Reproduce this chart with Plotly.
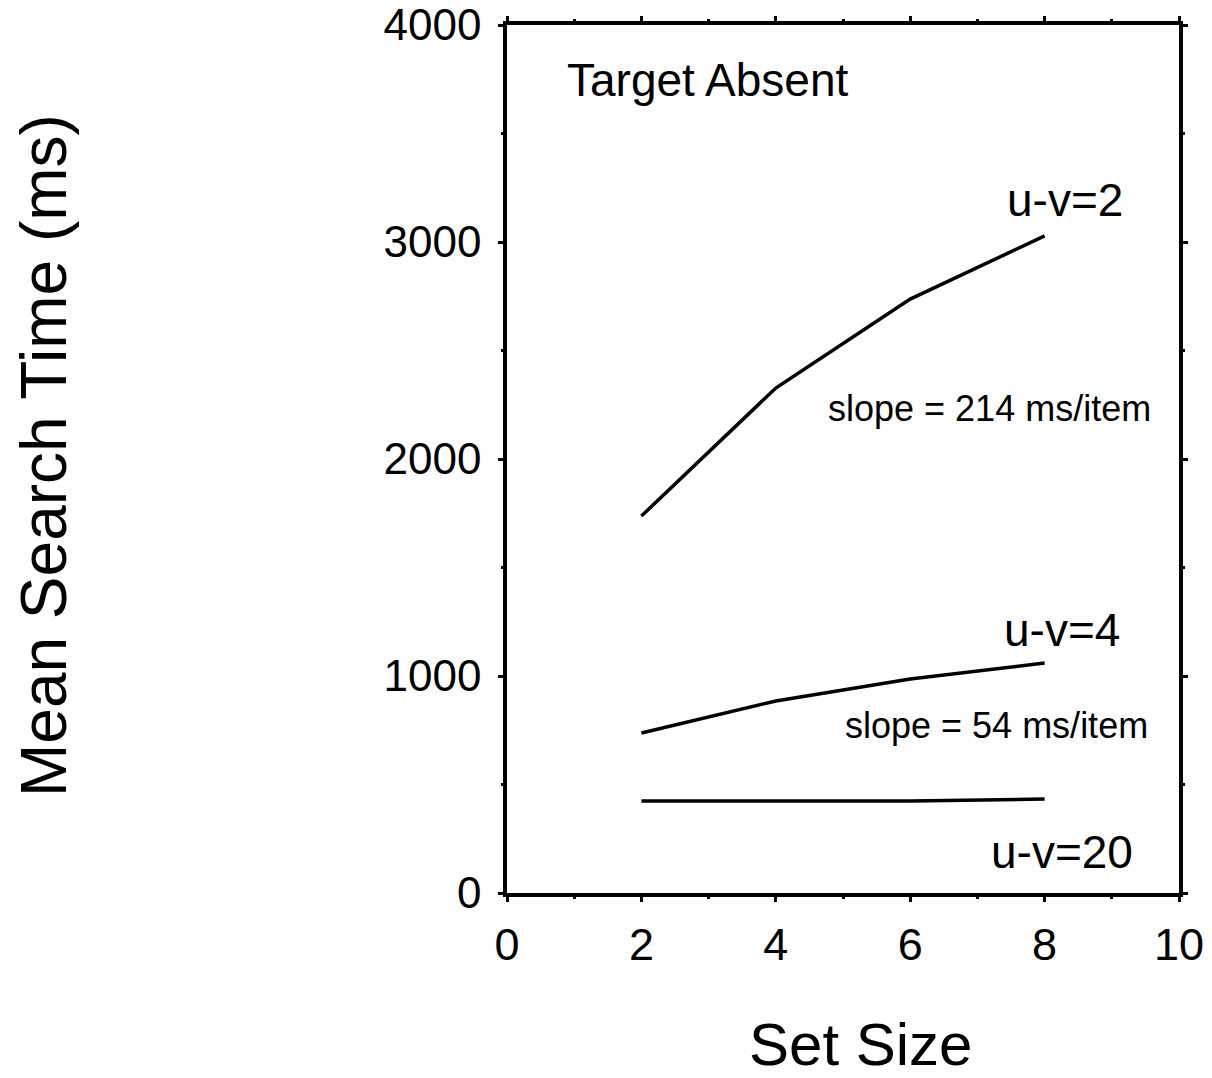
import plotly.graph_objects as go

set_size = [2, 4, 6, 8]
rt_uv2 = [1737, 2327, 2737, 3028]
rt_uv4 = [737, 885, 986, 1060]
rt_uv20 = [424, 424, 424, 433]

x_ticks = [0, 2, 4, 6, 8, 10]
y_ticks = [0, 1000, 2000, 3000, 4000]

FONT = "Liberation Sans, Arial, sans-serif"

fig = go.Figure()
for ys in (rt_uv2, rt_uv4, rt_uv20):
    fig.add_trace(go.Scatter(x=set_size, y=ys, mode="lines",
                             line=dict(color="black", width=3.5),
                             showlegend=False, hoverinfo="skip"))

axis_common = dict(
    showline=True, linecolor="black", linewidth=3.5, mirror="allticks",
    ticks="outside", ticklen=5, tickwidth=3, tickcolor="black",
    showgrid=False, zeroline=False,
)

fig.update_xaxes(range=[0, 10], tickvals=x_ticks, ticklabelstandoff=4,
                 tickfont=dict(family=FONT, size=45, color="black"),
                 minor=dict(dtick=1, ticks="outside", ticklen=2, tickwidth=3, tickcolor="black"),
                 **axis_common)
fig.update_yaxes(range=[0, 4000], tickvals=y_ticks, ticklabelstandoff=8,
                 tickfont=dict(family=FONT, size=44, color="black"),
                 minor=dict(dtick=500, ticks="outside", ticklen=2, tickwidth=3, tickcolor="black"),
                 **axis_common)

def ann(x, y, text, size, xanchor="right", **kw):
    fig.add_annotation(x=x, y=y, text=text, showarrow=False, xanchor=xanchor,
                       yanchor="middle", font=dict(family=FONT, size=size, color="black"), **kw)

ann(0.86, 3746, "Target Absent", 46, xanchor="left")
ann(9.2, 3194, "u-v=2", 46)
ann(9.61, 2235, "slope = 214 ms/item", 36)
ann(9.15, 1212, "u-v=4", 46)
ann(9.57, 774, "slope = 54 ms/item", 36)
ann(9.35, 189, "u-v=20", 46)

fig.add_annotation(xref="paper", yref="paper", x=(44 - 507) / 672, y=(893 - 456) / 868,
                   text="Mean Search Time (ms)", textangle=-90, showarrow=False,
                   xanchor="center", yanchor="middle",
                   font=dict(family=FONT, size=64, color="black"))
fig.add_annotation(xref="paper", yref="paper", x=(860 - 507) / 672, y=(893 - 1044) / 868,
                   text="Set Size", showarrow=False, xanchor="center", yanchor="middle",
                   font=dict(family=FONT, size=60, color="black"))

fig.update_layout(width=1212, height=1078,
                  margin=dict(l=507, r=33, t=25, b=185, autoexpand=False),
                  plot_bgcolor="white", paper_bgcolor="white")

fig.write_html("out.html")
